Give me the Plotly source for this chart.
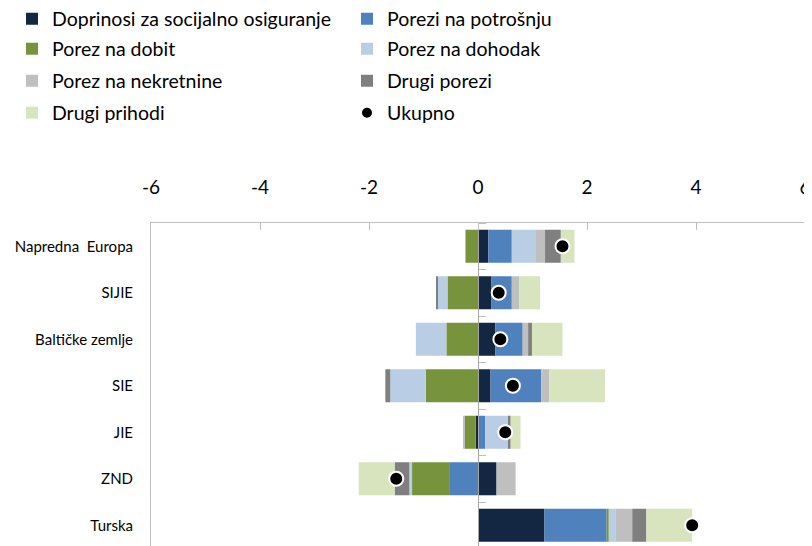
import plotly.graph_objects as go

categories = ["Napredna  Europa", "SIJIE", "Baltičke zemlje", "SIE", "JIE", "ZND", "Turska"]

doprinosi = [0.19, 0.24, 0.32, 0.23, -0.04, 0.34, 1.22]
potrosnja = [0.43, 0.38, 0.50, 0.93, 0.13, -0.53, 1.14]
dobit = [-0.23, -0.56, -0.58, -0.96, -0.20, -0.68, 0.04]
dohodak = [0.43, -0.18, -0.56, -0.65, 0.42, -0.05, 0.12]
nekretnine = [0.18, 0.14, 0.10, 0.15, -0.03, 0.35, 0.31]
drugi_porezi = [0.29, -0.03, 0.07, -0.09, 0.05, -0.27, 0.26]
drugi_prihodi = [0.25, 0.38, 0.56, 1.02, 0.18, -0.66, 0.84]
ukupno = [1.55, 0.38, 0.41, 0.64, 0.50, -1.50, 3.93]

x_ticks = [-6, -4, -2, 0, 2, 4, 6]
x_tick_labels = ["-6", "-4", "-2", "0", "2", "4", "6"]

series = [
    ("Doprinosi za socijalno osiguranje", doprinosi, "#132743", "legend"),
    ("Porezi na potrošnju", potrosnja, "#4f81bd", "legend"),
    ("Porez na dobit", dobit, "#77933c", "legend2"),
    ("Porez na dohodak", dohodak, "#b9cde5", "legend2"),
    ("Porez na nekretnine", nekretnine, "#bfbfbf", "legend3"),
    ("Drugi porezi", drugi_porezi, "#7f7f7f", "legend3"),
    ("Drugi prihodi", drugi_prihodi, "#d7e4bd", "legend4"),
]

FONT = "Lato"

fig = go.Figure()
for name, vals, color, lg in series:
    fig.add_trace(go.Bar(
        name=name, y=categories, x=vals, orientation="h",
        marker=dict(color=color, line=dict(width=0)),
        legend=lg,
    ))

fig.add_trace(go.Scatter(
    name="Ukupno", y=categories, x=ukupno, mode="markers",
    marker=dict(color="black", size=14, line=dict(color="white", width=2)),
    yaxis="y2", legend="legend4",
))

H = 323.0
W = 654.0
def ly(p):
    return (546 - p) / H

legend_common = dict(
    orientation="h", xanchor="left", yanchor="middle", x=(4 - 143) / W,
    font=dict(family=FONT, size=19.5, color="#000"),
    entrywidth=290, entrywidthmode="pixels", bgcolor="rgba(0,0,0,0)",
    itemsizing="constant",
)

y_range = [6.446, -0.5]

fig.update_layout(
    width=804, height=546,
    margin=dict(l=143, r=7, t=215, b=8, autoexpand=False),
    paper_bgcolor="white", plot_bgcolor="white",
    barmode="relative", bargap=0.29,
    font=dict(family=FONT, color="#000"),
    legend=dict(legend_common, y=ly(19)),
    legend2=dict(legend_common, y=ly(49)),
    legend3=dict(legend_common, y=ly(81)),
    legend4=dict(legend_common, y=ly(113)),
    xaxis=dict(
        side="top", range=[-6, 6], tickvals=x_ticks, ticktext=x_tick_labels,
        ticks="inside", ticklen=7, tickcolor="#bfbfbf",
        showline=True, mirror=True, linecolor="#bfbfbf", linewidth=1,
        showgrid=False, zeroline=False, automargin=False,
        ticklabeloverflow="allow",
        tickfont=dict(family=FONT, size=19, color="#000"),
        ticklabelstandoff=20,
    ),
    yaxis=dict(
        type="category", categoryarray=categories, range=y_range,
        showline=True, mirror=True, linecolor="#bfbfbf", linewidth=1,
        ticks="", showgrid=False, zeroline=False, automargin=False,
        tickfont=dict(family=FONT, size=15, color="#000"),
        ticklabelstandoff=14,
    ),
    yaxis2=dict(
        type="category", categoryarray=categories, range=y_range,
        overlaying="y", anchor="free", position=0.5, side="right",
        showline=True, linecolor="#a6a6a6", linewidth=1,
        ticks="outside", ticklen=7, tickcolor="#bfbfbf", tickson="boundaries",
        showticklabels=False, showgrid=False, zeroline=False, automargin=False,
    ),
)

fig.write_html("out.html")
